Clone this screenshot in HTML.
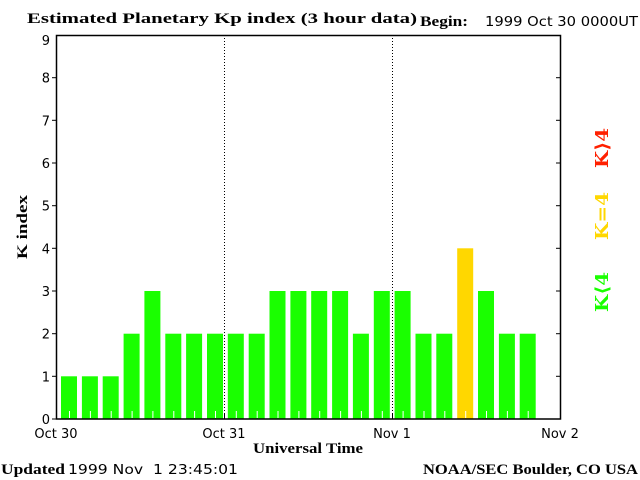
<!DOCTYPE html>
<html><head><meta charset="utf-8"><style>
html,body{margin:0;padding:0;background:#fff;}
svg{display:block}
.s{font-family:"DejaVu Sans","Liberation Sans",sans-serif;font-size:13px;fill:#000}
.b{font-family:"Liberation Serif","DejaVu Serif",serif;font-weight:bold;font-size:15px;fill:#000}
</style></head><body>
<svg width="640" height="480" viewBox="0 0 640 480" xmlns="http://www.w3.org/2000/svg">
<rect width="640" height="480" fill="#fff"/>
<text class="b" x="27" y="23" textLength="390" lengthAdjust="spacingAndGlyphs">Estimated Planetary Kp index (3 hour data)</text>
<text class="b" x="420" y="26" textLength="48" lengthAdjust="spacingAndGlyphs">Begin:</text>
<text class="s" x="485" y="26" textLength="153" lengthAdjust="spacingAndGlyphs">1999 Oct 30 0000UT</text>
<g fill="#1aff00">
<rect x="61.0" y="376.3" width="16" height="42.7"/>
<rect x="81.9" y="376.3" width="16" height="42.7"/>
<rect x="102.7" y="376.3" width="16" height="42.7"/>
<rect x="123.6" y="333.7" width="16" height="85.3"/>
<rect x="144.4" y="291" width="16" height="128"/>
<rect x="165.3" y="333.7" width="16" height="85.3"/>
<rect x="186.1" y="333.7" width="16" height="85.3"/>
<rect x="207.0" y="333.7" width="16" height="85.3"/>
<rect x="227.8" y="333.7" width="16" height="85.3"/>
<rect x="248.7" y="333.7" width="16" height="85.3"/>
<rect x="269.5" y="291" width="16" height="128"/>
<rect x="290.4" y="291" width="16" height="128"/>
<rect x="311.2" y="291" width="16" height="128"/>
<rect x="332.1" y="291" width="16" height="128"/>
<rect x="352.9" y="333.7" width="16" height="85.3"/>
<rect x="373.8" y="291" width="16" height="128"/>
<rect x="394.6" y="291" width="16" height="128"/>
<rect x="415.5" y="333.7" width="16" height="85.3"/>
<rect x="436.3" y="333.7" width="16" height="85.3"/>
<rect x="478.0" y="291" width="16" height="128"/>
<rect x="498.9" y="333.7" width="16" height="85.3"/>
<rect x="519.7" y="333.7" width="16" height="85.3"/>
</g>
<rect x="457.2" y="248.3" width="16" height="170.7" fill="#ffd700"/>
<g stroke="#fff" stroke-width="1">
<line x1="69.5" y1="411" x2="69.5" y2="418"/><line x1="90.4" y1="411" x2="90.4" y2="418"/>
<line x1="111.2" y1="411" x2="111.2" y2="418"/><line x1="132.1" y1="411" x2="132.1" y2="418"/>
<line x1="152.9" y1="411" x2="152.9" y2="418"/><line x1="173.8" y1="411" x2="173.8" y2="418"/>
<line x1="194.6" y1="411" x2="194.6" y2="418"/><line x1="215.5" y1="411" x2="215.5" y2="418"/>
<line x1="236.3" y1="411" x2="236.3" y2="418"/><line x1="257.2" y1="411" x2="257.2" y2="418"/>
<line x1="278.0" y1="411" x2="278.0" y2="418"/><line x1="298.9" y1="411" x2="298.9" y2="418"/>
<line x1="319.7" y1="411" x2="319.7" y2="418"/><line x1="340.6" y1="411" x2="340.6" y2="418"/>
<line x1="361.4" y1="411" x2="361.4" y2="418"/><line x1="382.3" y1="411" x2="382.3" y2="418"/>
<line x1="403.1" y1="411" x2="403.1" y2="418"/><line x1="424.0" y1="411" x2="424.0" y2="418"/>
<line x1="444.8" y1="411" x2="444.8" y2="418"/><line x1="465.7" y1="411" x2="465.7" y2="418"/>
<line x1="486.5" y1="411" x2="486.5" y2="418"/><line x1="507.4" y1="411" x2="507.4" y2="418"/>
<line x1="528.2" y1="411" x2="528.2" y2="418"/>
</g>
<g stroke="#000" stroke-width="1" stroke-dasharray="1,2">
<line x1="224.5" y1="35" x2="224.5" y2="419"/>
<line x1="392.5" y1="35" x2="392.5" y2="419"/>
</g>
<rect x="56.5" y="35.5" width="504" height="383.5" fill="none" stroke="#000" stroke-width="1.5"/>
<g stroke="#000" stroke-width="1">
<line x1="52" y1="419" x2="56" y2="419"/><line x1="556" y1="419" x2="560" y2="419"/>
<line x1="52" y1="376.3" x2="56" y2="376.3"/><line x1="556" y1="376.3" x2="560" y2="376.3"/>
<line x1="52" y1="333.7" x2="56" y2="333.7"/><line x1="556" y1="333.7" x2="560" y2="333.7"/>
<line x1="52" y1="291" x2="56" y2="291"/><line x1="556" y1="291" x2="560" y2="291"/>
<line x1="52" y1="248.3" x2="56" y2="248.3"/><line x1="556" y1="248.3" x2="560" y2="248.3"/>
<line x1="52" y1="205.7" x2="56" y2="205.7"/><line x1="556" y1="205.7" x2="560" y2="205.7"/>
<line x1="52" y1="163" x2="56" y2="163"/><line x1="556" y1="163" x2="560" y2="163"/>
<line x1="52" y1="120.3" x2="56" y2="120.3"/><line x1="556" y1="120.3" x2="560" y2="120.3"/>
<line x1="52" y1="77.7" x2="56" y2="77.7"/><line x1="556" y1="77.7" x2="560" y2="77.7"/>
<line x1="224.5" y1="414" x2="224.5" y2="419"/><line x1="392.5" y1="414" x2="392.5" y2="419"/>
</g>
<g class="s" text-anchor="end" font-size="14">
<text x="50" y="424">0</text><text x="50" y="381.3">1</text><text x="50" y="338.7">2</text>
<text x="50" y="296">3</text><text x="50" y="253.3">4</text><text x="50" y="210.7">5</text>
<text x="50" y="168">6</text><text x="50" y="125.3">7</text><text x="50" y="82.7">8</text>
<text x="50" y="45">9</text>
</g>
<text class="s" x="56" y="438" text-anchor="middle">Oct 30</text>
<text class="s" x="224" y="438" text-anchor="middle">Oct 31</text>
<text class="s" x="392" y="438" text-anchor="middle">Nov 1</text>
<text class="s" x="560" y="438" text-anchor="middle">Nov 2</text>
<text class="b" x="253" y="453" textLength="110" lengthAdjust="spacingAndGlyphs">Universal Time</text>
<text class="b" x="27" y="227" text-anchor="middle" transform="rotate(-90 27 227)" textLength="64" lengthAdjust="spacingAndGlyphs">K index</text>
<text class="b" x="1" y="474" textLength="64" lengthAdjust="spacingAndGlyphs">Updated</text>
<text class="s" x="68" y="474" textLength="170" lengthAdjust="spacingAndGlyphs" xml:space="preserve">1999 Nov  1 23:45:01</text>
<text class="b" x="423" y="474" textLength="215" lengthAdjust="spacingAndGlyphs">NOAA/SEC Boulder, CO USA</text>
<g font-family="'DejaVu Serif','Liberation Serif',serif" font-size="18" font-weight="bold">
<text x="608" y="148" text-anchor="middle" fill="#ff2000" transform="rotate(-90 608 148)" textLength="40" lengthAdjust="spacingAndGlyphs">K⟩4</text>
<text x="608" y="216" text-anchor="middle" fill="#ffd700" transform="rotate(-90 608 216)" textLength="48" lengthAdjust="spacingAndGlyphs">K=4</text>
<text x="608" y="292" text-anchor="middle" fill="#1aff00" transform="rotate(-90 608 292)" textLength="40" lengthAdjust="spacingAndGlyphs">K⟨4</text>
</g>
</svg>
</body></html>
